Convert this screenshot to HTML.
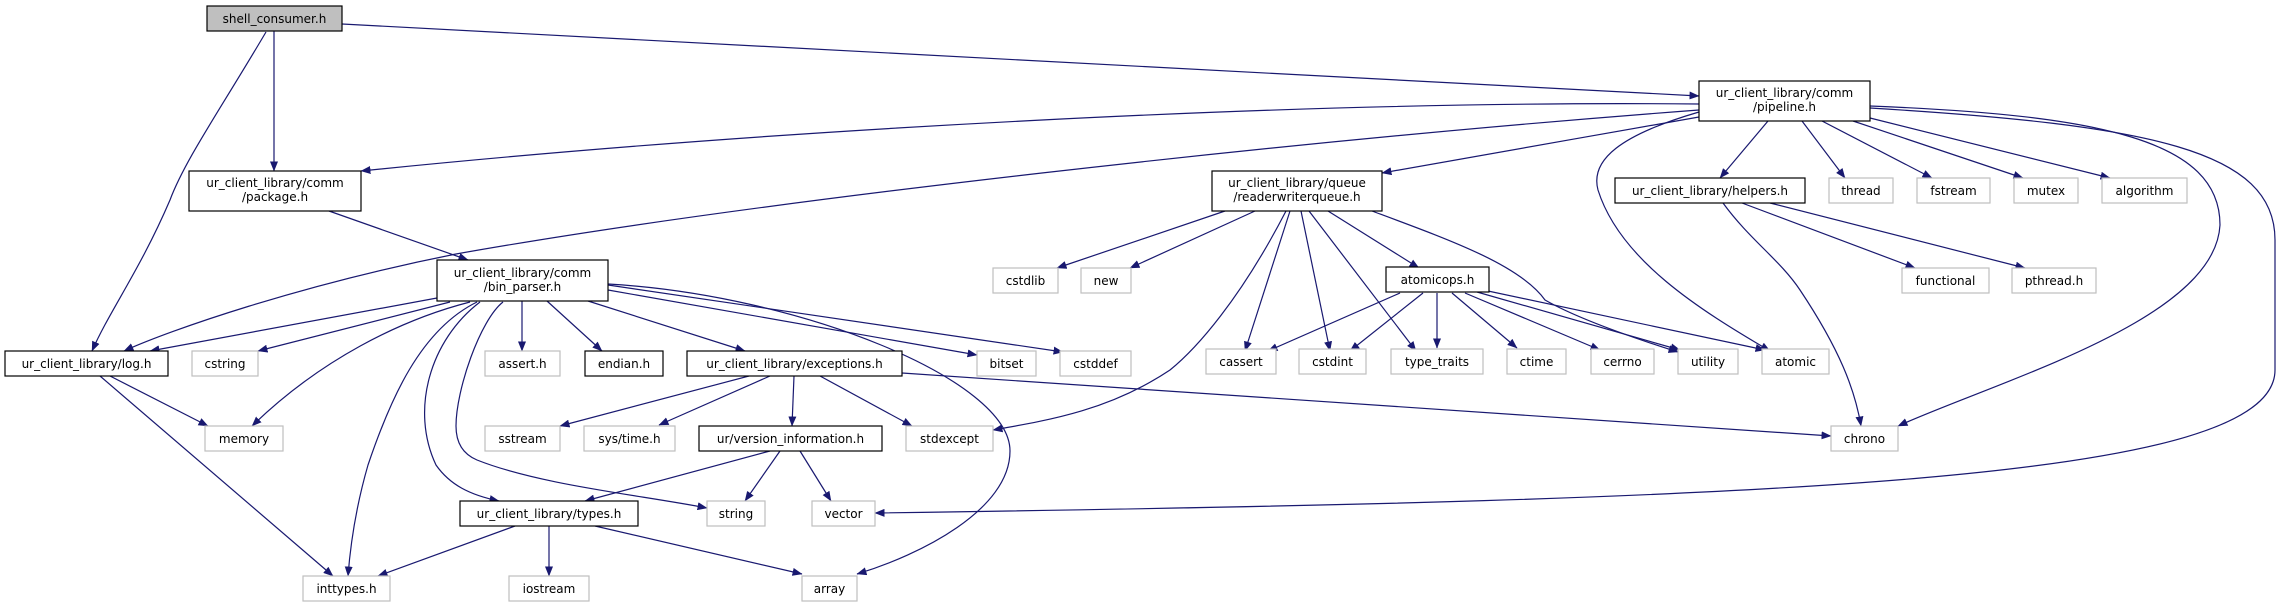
<!DOCTYPE html>
<html><head><meta charset="utf-8"><style>
html,body{margin:0;padding:0;background:#fff}
svg{display:block}
text{font-family:"DejaVu Sans","Liberation Sans",sans-serif;font-size:12px;fill:#000;text-anchor:middle}
.n{fill:#fff;stroke:#000;stroke-width:1.2}
.g{fill:#fff;stroke:#bfbfbf;stroke-width:1.2}
.e{fill:none;stroke:#191970;stroke-width:1.2;marker-end:url(#a)}
</style></head><body>
<svg width="2284" height="604" viewBox="0 0 2284 604" xmlns="http://www.w3.org/2000/svg">
<defs><marker id="a" markerWidth="10" markerHeight="8" refX="9.5" refY="4" orient="auto" markerUnits="userSpaceOnUse"><path d="M0,0 L10,4 L0,8 z" fill="#191970"/></marker></defs>
<g>
<path class="e" d="M342,24 L1699,96"/>
<path class="e" d="M274,31 L274,171"/>
<path class="e" d="M266,32 C220,110 185,160 170,200 C140,270 110,310 92,351"/>
<path class="e" d="M1699,104 C1300,100 760,130 361,171"/>
<path class="e" d="M1699,110 C1300,140 760,200 456,254 C300,285 170,330 124,351"/>
<path class="e" d="M1699,117 C1600,135 1450,160 1382,173"/>
<path class="e" d="M1768,121 L1720,178"/>
<path class="e" d="M1802,121 L1845,178"/>
<path class="e" d="M1822,121 L1932,178"/>
<path class="e" d="M1853,121 L2023,178"/>
<path class="e" d="M1870,118 L2110,178"/>
<path class="e" d="M1699,112 C1620,135 1590,160 1598,190 C1620,260 1700,310 1770,351"/>
<path class="e" d="M1870,106 C2100,115 2220,140 2220,225 C2215,320 2000,380 1898,426"/>
<path class="e" d="M1870,108 C2150,125 2275,150 2275,240 L2275,370 C2275,480 1800,500 875,513"/>
<path class="e" d="M329,211 L468,260"/>
<path class="e" d="M437,298 L150,351"/>
<path class="e" d="M450,302 L258,351"/>
<path class="e" d="M470,302 C400,320 320,360 252,426"/>
<path class="e" d="M477,302 C420,330 390,400 368,465 C355,510 350,550 348,576"/>
<path class="e" d="M480,302 C430,340 410,410 436,465 C450,485 470,495 499,501"/>
<path class="e" d="M503,302 C480,320 456,390 456,426 C456,445 465,455 477,460 C540,485 640,495 707,508"/>
<path class="e" d="M522,301 L522,351"/>
<path class="e" d="M547,301 L602,351"/>
<path class="e" d="M588,301 L745,351"/>
<path class="e" d="M608,290 L977,355"/>
<path class="e" d="M608,285 L1063,352"/>
<path class="e" d="M608,284 C800,295 1010,380 1010,451 C1010,510 920,555 857,574"/>
<path class="e" d="M110,376 L208,426"/>
<path class="e" d="M100,376 L333,576"/>
<path class="e" d="M749,376 L560,426"/>
<path class="e" d="M770,376 L659,425"/>
<path class="e" d="M794,376 L792,426"/>
<path class="e" d="M820,376 L912,426"/>
<path class="e" d="M902,373 L1831,436"/>
<path class="e" d="M770,451 L585,501"/>
<path class="e" d="M780,451 L745,501"/>
<path class="e" d="M800,451 L831,501"/>
<path class="e" d="M515,526 L378,576"/>
<path class="e" d="M549,526 L549,576"/>
<path class="e" d="M595,526 L802,574"/>
<path class="e" d="M1225,211 L1057,268"/>
<path class="e" d="M1255,211 L1130,268"/>
<path class="e" d="M1286,211 C1240,300 1196,349 1170,370 C1110,410 1050,420 993,430"/>
<path class="e" d="M1290,211 L1245,351"/>
<path class="e" d="M1301,211 L1330,351"/>
<path class="e" d="M1309,211 L1416,351"/>
<path class="e" d="M1328,211 L1419,268"/>
<path class="e" d="M1372,211 C1450,240 1520,265 1545,300 C1580,320 1640,340 1678,352"/>
<path class="e" d="M1400,293 L1268,351"/>
<path class="e" d="M1423,293 L1350,351"/>
<path class="e" d="M1437,293 L1437,348"/>
<path class="e" d="M1452,293 L1517,348"/>
<path class="e" d="M1465,293 L1600,350"/>
<path class="e" d="M1477,292 L1680,350"/>
<path class="e" d="M1488,291 L1765,350"/>
<path class="e" d="M1723,203 C1750,240 1780,260 1800,290 C1840,350 1855,390 1861,426"/>
<path class="e" d="M1742,203 L1915,268"/>
<path class="e" d="M1770,203 L2025,268"/>
</g>
<g>
<rect x="207" y="6" width="135" height="25" fill="#bfbfbf" stroke="#000" stroke-width="1.2"/><text x="274.5" y="23">shell_consumer.h</text>
<rect class="n" x="1699" y="81" width="171" height="40"/><text x="1784.5" y="97">ur_client_library/comm</text><text x="1784.5" y="111">/pipeline.h</text>
<rect class="n" x="189" y="171" width="172" height="40"/><text x="275" y="187">ur_client_library/comm</text><text x="275" y="201">/package.h</text>
<rect class="n" x="1212" y="171" width="170" height="40"/><text x="1297" y="187">ur_client_library/queue</text><text x="1297" y="201">/readerwriterqueue.h</text>
<rect class="n" x="1615" y="178" width="190" height="25"/><text x="1710" y="195">ur_client_library/helpers.h</text>
<rect class="g" x="1829" y="178" width="64" height="25"/><text x="1861" y="195">thread</text>
<rect class="g" x="1917" y="178" width="73" height="25"/><text x="1953.5" y="195">fstream</text>
<rect class="g" x="2014" y="178" width="64" height="25"/><text x="2046" y="195">mutex</text>
<rect class="g" x="2102" y="178" width="85" height="25"/><text x="2144.5" y="195">algorithm</text>
<rect class="n" x="437" y="260" width="171" height="41"/><text x="522.5" y="277">ur_client_library/comm</text><text x="522.5" y="291">/bin_parser.h</text>
<rect class="g" x="993" y="268" width="65" height="25"/><text x="1025.5" y="285">cstdlib</text>
<rect class="g" x="1081" y="268" width="50" height="25"/><text x="1106" y="285">new</text>
<rect class="n" x="1386" y="267" width="103" height="25"/><text x="1437.5" y="284">atomicops.h</text>
<rect class="g" x="1902" y="268" width="87" height="25"/><text x="1945.5" y="285">functional</text>
<rect class="g" x="2012" y="268" width="84" height="25"/><text x="2054" y="285">pthread.h</text>
<rect class="n" x="5" y="351" width="163" height="25"/><text x="86.5" y="368">ur_client_library/log.h</text>
<rect class="g" x="192" y="351" width="66" height="25"/><text x="225" y="368">cstring</text>
<rect class="g" x="485" y="351" width="75" height="25"/><text x="522.5" y="368">assert.h</text>
<rect class="n" x="585" y="351" width="78" height="25"/><text x="624" y="368">endian.h</text>
<rect class="n" x="687" y="351" width="215" height="25"/><text x="794.5" y="368">ur_client_library/exceptions.h</text>
<rect class="g" x="977" y="351" width="59" height="25"/><text x="1006.5" y="368">bitset</text>
<rect class="g" x="1060" y="351" width="71" height="25"/><text x="1095.5" y="368">cstddef</text>
<rect class="g" x="1206" y="349" width="70" height="25"/><text x="1241" y="366">cassert</text>
<rect class="g" x="1299" y="349" width="67" height="25"/><text x="1332.5" y="366">cstdint</text>
<rect class="g" x="1391" y="349" width="92" height="25"/><text x="1437" y="366">type_traits</text>
<rect class="g" x="1507" y="349" width="59" height="25"/><text x="1536.5" y="366">ctime</text>
<rect class="g" x="1591" y="349" width="63" height="25"/><text x="1622.5" y="366">cerrno</text>
<rect class="g" x="1678" y="349" width="60" height="25"/><text x="1708" y="366">utility</text>
<rect class="g" x="1762" y="349" width="67" height="25"/><text x="1795.5" y="366">atomic</text>
<rect class="g" x="205" y="426" width="78" height="25"/><text x="244" y="443">memory</text>
<rect class="g" x="485" y="426" width="75" height="25"/><text x="522.5" y="443">sstream</text>
<rect class="g" x="584" y="426" width="91" height="25"/><text x="629.5" y="443">sys/time.h</text>
<rect class="n" x="699" y="426" width="183" height="25"/><text x="790.5" y="443">ur/version_information.h</text>
<rect class="g" x="906" y="426" width="87" height="25"/><text x="949.5" y="443">stdexcept</text>
<rect class="g" x="1831" y="426" width="67" height="25"/><text x="1864.5" y="443">chrono</text>
<rect class="n" x="460" y="501" width="178" height="25"/><text x="549" y="518">ur_client_library/types.h</text>
<rect class="g" x="707" y="501" width="58" height="25"/><text x="736" y="518">string</text>
<rect class="g" x="812" y="501" width="63" height="25"/><text x="843.5" y="518">vector</text>
<rect class="g" x="303" y="576" width="87" height="25"/><text x="346.5" y="593">inttypes.h</text>
<rect class="g" x="509" y="576" width="80" height="25"/><text x="549" y="593">iostream</text>
<rect class="g" x="802" y="576" width="55" height="25"/><text x="829.5" y="593">array</text>
</g>
</svg>
</body></html>
